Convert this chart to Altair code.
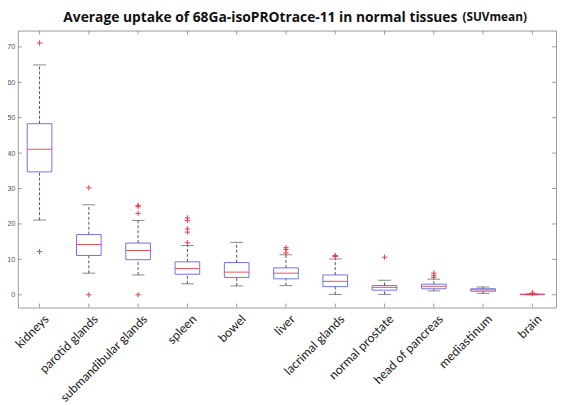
import altair as alt
import pandas as pd

categories = ["kidneys", "parotid glands", "submandibular glands", "spleen", "bowel",
              "liver", "lacrimal glands", "normal prostate", "head of pancreas",
              "mediastinum", "brain"]
lower_whisker = [21.1, 6.1, 5.6, 3.1, 2.5, 2.6, 0.1, 0.1, 1.1, 0.4, 0.0]
q1 = [34.7, 11.1, 9.9, 5.8, 4.9, 4.5, 2.3, 1.3, 1.7, 1.0, 0.05]
median = [41.1, 14.2, 12.5, 7.4, 6.4, 6.1, 3.8, 2.1, 2.4, 1.4, 0.1]
q3 = [48.3, 17.0, 14.6, 9.3, 9.1, 7.6, 5.6, 2.6, 3.0, 1.7, 0.15]
upper_whisker = [64.9, 25.4, 21.0, 13.9, 14.8, 11.3, 10.1, 4.1, 4.4, 2.2, 0.25]

outlier_cat = ["kidneys", "kidneys",
               "parotid glands", "parotid glands",
               "submandibular glands", "submandibular glands", "submandibular glands", "submandibular glands",
               "spleen", "spleen", "spleen", "spleen", "spleen",
               "liver", "liver", "liver",
               "lacrimal glands", "lacrimal glands",
               "normal prostate",
               "head of pancreas", "head of pancreas", "head of pancreas",
               "brain", "brain"]
outlier_val = [71.1, 12.2,
               30.2, 0.0,
               25.3, 24.9, 23.0, 0.0,
               21.7, 21.0, 18.6, 17.7, 14.7,
               13.3, 12.8, 11.8,
               11.1, 10.8,
               10.6,
               6.1, 5.5, 4.9,
               0.35, 0.5]

y_ticks = [0, 10, 20, 30, 40, 50, 60, 70]
title_main = "Average uptake of 68Ga-isoPROtrace-11 in normal tissues"
title_unit = "(SUVmean)"

W, H = 546, 281
BLUE = "#7272e6"
RED = "#e8404a"
WHISK = "#555555"
FRAME = "#9a9a9a"

boxes = pd.DataFrame({"cat": categories, "lw": lower_whisker, "q1": q1,
                      "med": median, "q3": q3, "uw": upper_whisker})
outs = pd.DataFrame({"cat": outlier_cat, "v": outlier_val})
yt = pd.DataFrame({"v": y_ticks})
xt = pd.DataFrame({"cat": categories})

xscale = alt.Scale(domain=categories, range=[-3, 547], paddingInner=0, paddingOuter=0)
yscale = alt.Scale(domain=[-3.6, 74.6], nice=False, zero=False)

xaxis = alt.Axis(title=None, ticks=False, domain=False, labelAngle=-45,
                 labelAlign="right", labelBaseline="top", labelPadding=5, labelOffset=3,
                 labelFont="Lato", labelFontSize=12.5, labelColor="#1a1a1a")
yaxis = alt.Axis(title=None, ticks=False, domain=False, grid=False, values=y_ticks,
                 labelFont="Liberation Sans", labelFontSize=7.5, labelColor="#555555",
                 labelPadding=3)

X = alt.X("cat:N", scale=xscale, sort=categories, axis=xaxis)


def Y(field):
    return alt.Y(field, scale=yscale, axis=yaxis)


box = alt.Chart(boxes).mark_bar(size=25, fillOpacity=0, stroke=BLUE, strokeWidth=1).encode(
    x=X, y=Y("q1:Q"), y2="q3:Q")
w_up = alt.Chart(boxes).mark_rule(color=WHISK, strokeDash=[3, 2], strokeWidth=1).encode(
    x=X, y=Y("q3:Q"), y2="uw:Q")
w_lo = alt.Chart(boxes).mark_rule(color=WHISK, strokeDash=[3, 2], strokeWidth=1).encode(
    x=X, y=Y("lw:Q"), y2="q1:Q")
cap_up = alt.Chart(boxes).mark_tick(color=WHISK, size=13, thickness=1).encode(x=X, y=Y("uw:Q"))
cap_lo = alt.Chart(boxes).mark_tick(color=WHISK, size=13, thickness=1).encode(x=X, y=Y("lw:Q"))
med = alt.Chart(boxes).mark_tick(color=RED, size=25, thickness=1, opacity=0.9).encode(x=X, y=Y("med:Q"))
pts = alt.Chart(outs).mark_point(shape="M-1,0L1,0M0,-1L0,1", size=30, color=RED,
                                 filled=False, strokeWidth=1, opacity=1).encode(x=X, y=Y("v:Q"))

tick_top = alt.Chart(xt).mark_rule(color=FRAME).encode(x=X, y=alt.value(0), y2=alt.value(4))
tick_bot = alt.Chart(xt).mark_rule(color=FRAME).encode(x=X, y=alt.value(H - 4), y2=alt.value(H))
tick_left = alt.Chart(yt).mark_rule(color=FRAME).encode(y=Y("v:Q"), x=alt.value(0), x2=alt.value(4))
tick_right = alt.Chart(yt).mark_rule(color=FRAME).encode(y=Y("v:Q"), x=alt.value(W - 4), x2=alt.value(W))

t1 = alt.Chart(pd.DataFrame({"t": [title_main]})).mark_text(
    font="Open Sans", fontSize=14, fontWeight="bold", color="#111111", align="center",
    baseline="alphabetic").encode(text="t:N", x=alt.value(246), y=alt.value(-8.5))
t2 = alt.Chart(pd.DataFrame({"t": [title_unit]})).mark_text(
    font="Open Sans", fontSize=12, fontWeight="bold", color="#111111", align="left",
    baseline="alphabetic").encode(text="t:N", x=alt.value(451), y=alt.value(-9.5))

chart = alt.layer(box, w_up, w_lo, cap_up, cap_lo, med, pts,
                  tick_top, tick_bot, tick_left, tick_right, t1, t2).properties(
    width=W, height=H,
    autosize=alt.AutoSizeParams(type="none"),
    padding={"left": 10, "top": 20, "right": 2, "bottom": 96},
).configure_view(stroke=FRAME, strokeWidth=1)

chart.save("out.html", embed_options={"renderer": "svg", "actions": False})
